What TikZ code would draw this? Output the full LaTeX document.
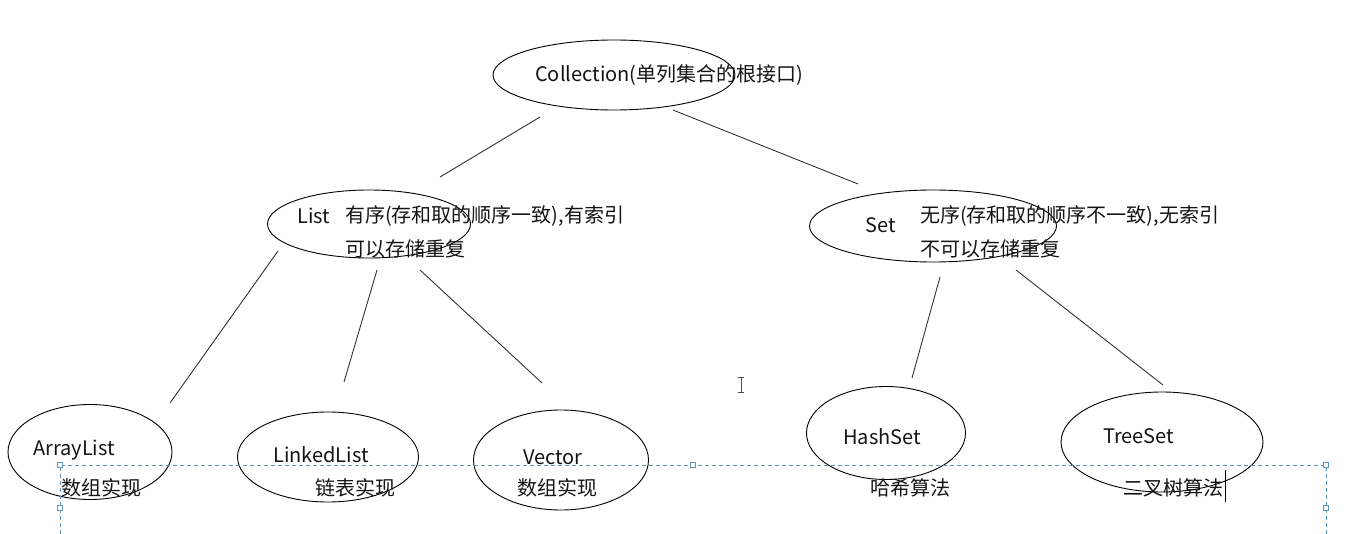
\documentclass[tikz,border=0pt]{standalone}
\usepackage{fontspec}
\setmainfont{Noto Sans CJK SC}
\usetikzlibrary{shapes.geometric}
\definecolor{selblue}{RGB}{95,150,190}
\begin{document}
\begin{tikzpicture}[x=1pt,y=-1pt,
  oval/.style={ellipse,draw=black,line width=0.9pt,inner sep=0pt},
  lbl/.style={anchor=west,inner sep=0pt,font=\fontsize{20}{24}\selectfont,text=black!92},
  conn/.style={draw=black!80,line width=0.9pt},
  selbox/.style={draw=selblue,dash pattern=on 4pt off 3pt,line width=0.8pt},
  handle/.style={draw=selblue,fill=white,line width=0.6pt,minimum size=4.5pt,inner sep=0pt}]
\useasboundingbox (0,0) rectangle (1347,534);
% ellipses
\node[oval,minimum width=242,minimum height=70] (coll) at (614,75) {};
\node[oval,minimum width=203,minimum height=68] (list) at (369,224) {};
\node[oval,minimum width=247,minimum height=72] (set) at (933,226) {};
\node[oval,minimum width=164,minimum height=95] (al) at (90,452) {};
\node[oval,minimum width=181,minimum height=90] (ll) at (328,457) {};
\node[oval,minimum width=175,minimum height=100] (vec) at (561,460) {};
\node[oval,minimum width=159,minimum height=93] (hs) at (886,433) {};
\node[oval,minimum width=202,minimum height=100] (ts) at (1162,442) {};
% texts
\node[lbl] (tcoll) at (535,75) {Collection(单列集合的根接口)};
\node[lbl] (tlist) at (297,216) {List};
\node[lbl] (tlist1) at (345,216) {有序(存和取的顺序一致),有索引};
\node[lbl] (tlist2) at (345,249) {可以存储重复};
\node[lbl] (tset) at (865,225) {Set};
\node[lbl] (tset1) at (920,216) {无序(存和取的顺序不一致),无索引};
\node[lbl] (tset2) at (920,249) {不可以存储重复};
\node[lbl] (tal) at (33,450) {ArrayList};
\node[lbl] (tal2) at (61,488) {数组实现};
\node[lbl] (tll) at (273,455) {LinkedList};
\node[lbl] (tll2) at (315,488) {链表实现};
\node[lbl] (tvec) at (523,457) {Vector};
\node[lbl] (tvec2) at (517,488) {数组实现};
\node[lbl] (ths) at (843,437) {HashSet};
\node[lbl] (ths2) at (870,488) {哈希算法};
\node[lbl] (tts) at (1103,436) {TreeSet};
\node[lbl] (tts2) at (1123,488) {二叉树算法};
% connector end points
\coordinate (c1a) at (540,117); \coordinate (c1b) at (440,177);
\coordinate (c2a) at (673,110); \coordinate (c2b) at (858,184);
\coordinate (c3a) at (278,251); \coordinate (c3b) at (170,403);
\coordinate (c4a) at (377,270); \coordinate (c4b) at (344,382);
\coordinate (c5a) at (420,270); \coordinate (c5b) at (542,383);
\coordinate (c6a) at (940,277); \coordinate (c6b) at (912,378);
\coordinate (c7a) at (1016,270); \coordinate (c7b) at (1163,385);
\draw[conn] (c1a) -- (c1b);
\draw[conn] (c2a) -- (c2b);
\draw[conn] (c3a) -- (c3b);
\draw[conn] (c4a) -- (c4b);
\draw[conn] (c5a) -- (c5b);
\draw[conn] (c6a) -- (c6b);
\draw[conn] (c7a) -- (c7b);
% selection box of the text area
\coordinate (sb1) at (60,534); \coordinate (sb2) at (60,465);
\coordinate (sb3) at (1326,465); \coordinate (sb4) at (1326,534);
\draw[selbox] (sb1) -- (sb2) -- (sb3) -- (sb4);
\node[handle] (h1) at (60,465) {};
\node[handle] (h2) at (693,465) {};
\node[handle] (h3) at (1326,465) {};
\node[handle] (h4) at (60,508) {};
\node[handle] (h5) at (1326,508) {};
% text cursor and mouse pointer
\coordinate (cur1) at (1225,470); \coordinate (cur2) at (1225,502);
\draw[line width=0.9pt] (cur1) -- (cur2);
\coordinate (ib1) at (741,377); \coordinate (ib2) at (741,392);
\draw[line width=0.8pt,black!70] (ib1) -- (ib2);
\draw[line width=0.8pt,black!70] (738,377) -- (744,377) (738,392) -- (744,392);
\end{tikzpicture}
\end{document}
